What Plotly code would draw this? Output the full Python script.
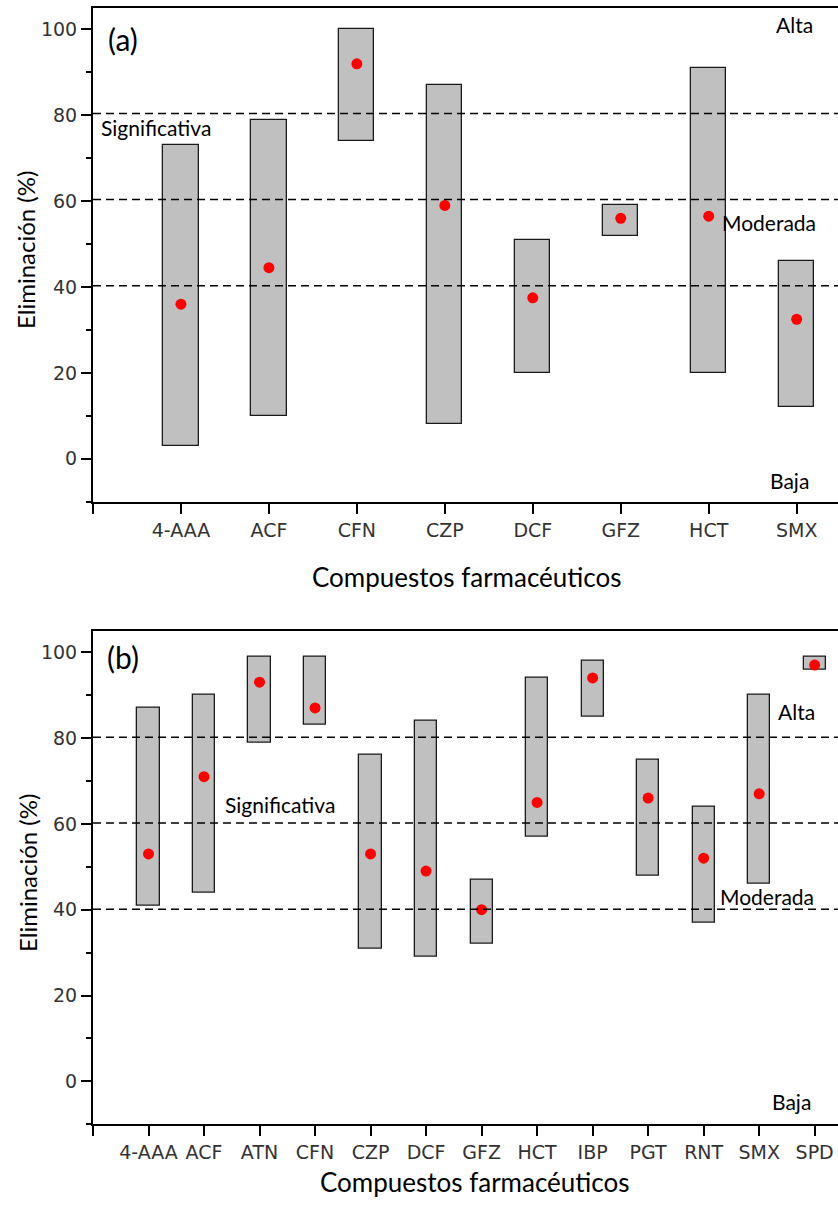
import plotly.graph_objects as go

# ---- data panel (a) ----
comp_a = ["4-AAA", "ACF", "CFN", "CZP", "DCF", "GFZ", "HCT", "SMX"]
low_a = [3, 10, 74, 8, 20, 52, 20, 12]
high_a = [73, 79, 100, 87, 51, 59, 91, 46]
mean_a = [36, 44.5, 92, 59, 37.5, 56, 56.5, 32.5]

# ---- data panel (b) ----
comp_b = ["4-AAA", "ACF", "ATN", "CFN", "CZP", "DCF", "GFZ", "HCT", "IBP", "PGT", "RNT", "SMX", "SPD"]
low_b = [41, 44, 79, 83, 31, 29, 32, 57, 85, 48, 37, 46, 96]
high_b = [87, 90, 99, 99, 76, 84, 47, 94, 98, 75, 64, 90, 99]
mean_b = [53, 71, 93, 87, 53, 49, 40, 65, 94, 66, 52, 67, 97]

thresholds = [80.4, 60.4, 40.3]
ytick_vals = [0, 20, 40, 60, 80, 100]

W, H = 838, 1205
fig = go.Figure()

def add_panel(comp, low, high, mean, xa, ya):
    pos = list(range(1, len(comp) + 1))
    fig.add_trace(go.Bar(
        x=pos, y=[h - l for h, l in zip(high, low)], base=low, width=0.4,
        marker=dict(color="#c0c0c0", line=dict(color="#1a1a1a", width=1.3)),
        xaxis=xa, yaxis=ya, showlegend=False, hoverinfo="skip"))
    fig.add_trace(go.Scatter(
        x=pos, y=mean, mode="markers",
        marker=dict(color="#ff0000", size=11, line=dict(width=0)),
        xaxis=xa, yaxis=ya, showlegend=False))

add_panel(comp_a, low_a, high_a, mean_a, "x", "y")
add_panel(comp_b, low_b, high_b, mean_b, "x2", "y2")

tickfont = dict(family="DejaVu Sans", size=19, color="#333333")
axis_common = dict(showline=True, linecolor="black", linewidth=2, ticks="outside",
                   ticklen=10, tickwidth=1.5, tickcolor="black", showgrid=False,
                   zeroline=False, tickfont=tickfont)

rng_a = [0, 8.47]
rng_b = [0, 13.42]

fig.update_layout(
    width=W, height=H, margin=dict(l=93, r=0, t=0, b=0),
    plot_bgcolor="white", paper_bgcolor="white", bargap=0,
    xaxis=dict(domain=[0, 1], anchor="y", range=rng_a, tickmode="array",
               tickvals=list(range(0, len(comp_a) + 1)), ticktext=[""] + comp_a,
               mirror=True, **axis_common),
    yaxis=dict(domain=[1 - 501.7 / H, 1 - 8 / H], anchor="x", range=[-10, 105],
               tickmode="array", tickvals=ytick_vals,
               minor=dict(ticks="outside", ticklen=5, tickwidth=1.5, tickcolor="black",
                          tickvals=[-10, 10, 30, 50, 70, 90]),
               **axis_common),
    xaxis2=dict(domain=[0, 1], anchor="y2", range=rng_b, tickmode="array",
                tickvals=list(range(0, len(comp_b) + 1)), ticktext=[""] + comp_b,
                mirror=True, **axis_common),
    yaxis2=dict(domain=[1 - 1124.3 / H, 1 - 630.7 / H], anchor="x2", range=[-10, 105],
                tickmode="array", tickvals=ytick_vals,
                minor=dict(ticks="outside", ticklen=5, tickwidth=1.5, tickcolor="black",
                           tickvals=[-10, 10, 30, 50, 70, 90]),
                **axis_common),
)

shapes = []
for t in thresholds:
    shapes.append(dict(type="line", xref="x", yref="y", x0=0, x1=rng_a[1], y0=t, y1=t,
                       line=dict(color="black", width=1.5, dash="8px,5px")))
    shapes.append(dict(type="line", xref="x2", yref="y2", x0=0, x1=rng_b[1], y0=t - 0.2, y1=t - 0.2,
                       line=dict(color="black", width=1.5, dash="8px,5px")))
fig.update_layout(shapes=shapes)

lab = dict(family="Lato", size=21, color="black")
ann = []
def A(text, x, y, xr, yr, font, xanchor="center"):
    ann.append(dict(text=text, x=x, y=y, xref=xr, yref=yr, showarrow=False,
                    font=font, xanchor=xanchor, yanchor="middle"))

big = dict(family="Lato", size=30, color="black")
A("(a)", 0.34, 97.7, "x", "y", big)
A("Significativa", 0.716, 77.1, "x", "y", lab)
A("Alta", 7.98, 101.2, "x", "y", lab)
A("Moderada", 7.69, 55.1, "x", "y", lab)
A("Baja", 7.92, -5.1, "x", "y", lab)

A("(b)", 0.54, 98.9, "x2", "y2", big)
A("Significativa", 3.37, 64.4, "x2", "y2", lab)
A("Alta", 12.68, 86.1, "x2", "y2", lab)
A("Moderada", 12.14, 43, "x2", "y2", lab)
A("Baja", 12.59, -4.6, "x2", "y2", lab)

tfont = dict(family="Lato", size=26, color="black")
yfont = dict(family="Lato", size=24, color="black")
ann.append(dict(text="Compuestos farmacéuticos", x=(467 - 93) / 745, y=1 - 577 / H,
                xref="paper", yref="paper", showarrow=False, font=tfont,
                xanchor="center", yanchor="middle"))
ann.append(dict(text="Compuestos farmacéuticos", x=(475 - 93) / 745, y=1 - 1182 / H,
                xref="paper", yref="paper", showarrow=False, font=tfont,
                xanchor="center", yanchor="middle"))
ann.append(dict(text="Eliminación (%)", x=(25 - 93) / 745, y=1 - 250 / H,
                xref="paper", yref="paper", showarrow=False, font=yfont, textangle=-90,
                xanchor="center", yanchor="middle"))
ann.append(dict(text="Eliminación (%)", x=(27 - 93) / 745, y=1 - 873 / H,
                xref="paper", yref="paper", showarrow=False, font=yfont, textangle=-90,
                xanchor="center", yanchor="middle"))
fig.update_layout(annotations=ann)

fig.write_html("out.html")
